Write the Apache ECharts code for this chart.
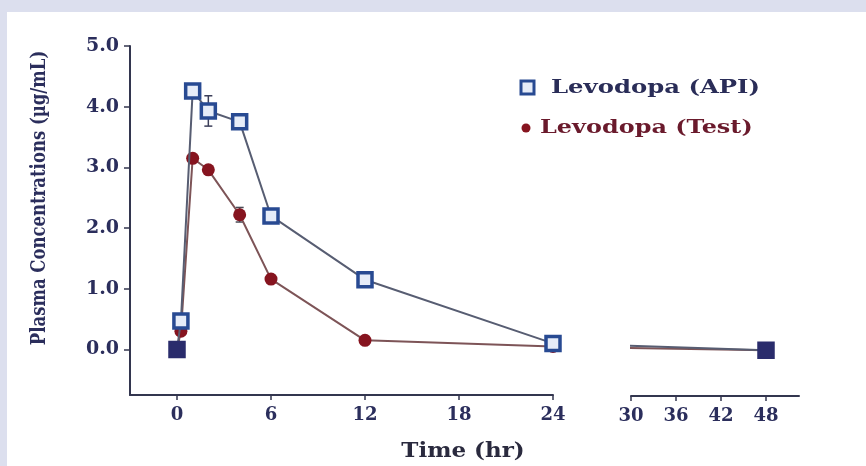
<!DOCTYPE html>
<html>
<head>
<meta charset="utf-8">
<style>
  html, body { margin: 0; padding: 0; background: #dcdfee; }
  #chart { width: 866px; height: 466px; }
</style>
<script src="https://cdn.jsdelivr.net/npm/echarts@6/dist/echarts.min.js"></script>
</head>
<body>
<div id="chart"></div>
<script>
// Sampling times (hr)
var times = [0, 0.25, 1, 2, 4, 6, 12, 24, 48];
// Mean plasma levodopa concentrations (µg/mL)
var apiMean = [0, 0.47, 4.26, 3.93, 3.75, 2.20, 1.15, 0.10, 0.00];
var testMean = [0, 0.30, 3.15, 2.96, 2.22, 1.16, 0.15, 0.05, 0.00];
// Standard deviations shown as error bars
var apiSD = [0, 0.03, 0.05, 0.25, 0.06, 0.06, 0.10, 0.03, 0];
var testSD = [0, 0.02, 0.05, 0.05, 0.12, 0.05, 0.03, 0.02, 0];
// Axis ticks
var yTicks = [0, 1, 2, 3, 4, 5];
var xTicksEarly = [0, 6, 12, 18, 24];
var xTicksLate = [30, 36, 42, 48];

var FONT = 'DejaVu Serif';
var NAVY = '#2b2e5c';
var AXIS = '#33364f';
var API_BLUE = '#284a92';
var API_FILL = '#e6ecf8';
var TEST_RED = '#86141f';

function pairs(vals) {
  return times.map(function (t, i) { return [t, vals[i]]; });
}
function apiPoints() {
  return times.map(function (t, i) {
    var p = { value: [t, apiMean[i]] };
    // overlapping API/Test markers at baseline render as a solid block
    if (apiMean[i] === 0) p.itemStyle = { color: '#2a2c6c', borderColor: '#2a2c6c' };
    return p;
  });
}
function errData(vals, sds) {
  return times.map(function (t, i) { return [t, vals[i] - sds[i], vals[i] + sds[i]]; })
    .filter(function (d, i) { return sds[i] > 0; });
}
function errRender(color) {
  return function (params, api) {
    var lo = api.coord([api.value(0), api.value(1)]);
    var hi = api.coord([api.value(0), api.value(2)]);
    var w = 4;
    var st = { stroke: color, lineWidth: 1.5 };
    return {
      type: 'group',
      children: [
        { type: 'line', shape: { x1: lo[0], y1: lo[1], x2: hi[0], y2: hi[1] }, style: st },
        { type: 'line', shape: { x1: lo[0] - w, y1: lo[1], x2: lo[0] + w, y2: lo[1] }, style: st },
        { type: 'line', shape: { x1: hi[0] - w, y1: hi[1], x2: hi[0] + w, y2: hi[1] }, style: st }
      ]
    };
  };
}

function xAxisCfg(gridIndex, min, max, ticks) {
  return {
    type: 'value', gridIndex: gridIndex, min: min, max: max,
    axisLine: { show: true, onZero: false, lineStyle: { color: AXIS, width: 2 } },
    axisTick: { show: true, customValues: ticks, length: 5, lineStyle: { color: AXIS, width: 1.5 } },
    axisLabel: {
      customValues: ticks, margin: 11,
      fontFamily: FONT, fontWeight: 'bold', fontSize: 18, color: NAVY
    },
    splitLine: { show: false }
  };
}
function yAxisCfg(gridIndex, show) {
  return {
    type: 'value', gridIndex: gridIndex, min: -0.75, max: 5, show: show,
    axisLine: { show: true, onZero: false, lineStyle: { color: AXIS, width: 2 } },
    axisTick: { show: true, customValues: yTicks, length: 6, lineStyle: { color: AXIS, width: 1.5 } },
    axisLabel: {
      customValues: yTicks, margin: 11,
      fontFamily: FONT, fontWeight: 'bold', fontSize: 19, color: NAVY,
      formatter: function (v) { return v.toFixed(1); }
    },
    splitLine: { show: false }
  };
}

function lineSeries(name, data, gi, sym, size, style, lineColor) {
  return {
    name: name, type: 'line', xAxisIndex: gi, yAxisIndex: gi, data: data,
    symbol: sym, symbolSize: size, clip: true,
    lineStyle: { color: lineColor, width: 2 },
    itemStyle: style, z: sym === 'rect' ? 4 : 3
  };
}

var apiStyle = { color: API_FILL, borderColor: API_BLUE, borderWidth: 3.5 };
var testStyle = { color: TEST_RED, borderColor: TEST_RED, borderWidth: 0 };

var series = [];
[0, 1].forEach(function (gi) {
  series.push({
    type: 'custom', xAxisIndex: gi, yAxisIndex: gi, clip: true, z: 2,
    renderItem: errRender('#4a4a55'), data: errData(testMean, testSD)
  });
  series.push({
    type: 'custom', xAxisIndex: gi, yAxisIndex: gi, clip: true, z: 2,
    renderItem: errRender('#3c3f5a'), data: errData(apiMean, apiSD)
  });
  series.push(lineSeries('Levodopa (Test)', pairs(testMean), gi, 'circle', 13, testStyle, '#7d5457'));
  series.push(lineSeries('Levodopa (API)', apiPoints(), gi, 'rect', 14, apiStyle, '#575d72'));
});

var chart = echarts.init(document.getElementById('chart'), null, { renderer: 'canvas' });
chart.setOption({
  backgroundColor: '#dcdfee',
  animation: false,
  grid: [
    { left: 130, top: 46, width: 423, height: 349 },
    { left: 631, top: 46, width: 168, height: 350 }
  ],
  xAxis: [xAxisCfg(0, -3, 24, xTicksEarly), xAxisCfg(1, 30, 52.4, xTicksLate)],
  yAxis: [yAxisCfg(0, true), yAxisCfg(1, false)],
  series: series,
  graphic: [
    { type: 'rect', z: -10, shape: { x: 7, y: 12, width: 870, height: 470 }, style: { fill: '#ffffff' } },
    {
      type: 'text', x: 40, y: 198, rotation: Math.PI / 2, scaleY: 1.25,
      style: {
        text: 'Plasma Concentrations (µg/mL)', fontFamily: FONT, fontWeight: 'bold',
        fontSize: 16.5, fill: NAVY, align: 'center', verticalAlign: 'middle'
      }
    },
    {
      type: 'text', x: 463, y: 452, scaleX: 1.15,
      style: {
        text: 'Time (hr)', fontFamily: FONT, fontWeight: 'bold',
        fontSize: 20, fill: '#2a2a3e', align: 'center', verticalAlign: 'middle'
      }
    },
    { type: 'rect', shape: { x: 521, y: 81, width: 13, height: 13 }, style: { fill: API_FILL, stroke: API_BLUE, lineWidth: 3 } },
    {
      type: 'text', x: 551, y: 88, scaleX: 1.28,
      style: {
        text: 'Levodopa (API)', fontFamily: FONT, fontWeight: 'bold',
        fontSize: 19, fill: '#2a2d58', verticalAlign: 'middle'
      }
    },
    { type: 'circle', shape: { cx: 526, cy: 128, r: 4.5 }, style: { fill: TEST_RED } },
    {
      type: 'text', x: 540, y: 128, scaleX: 1.26,
      style: {
        text: 'Levodopa (Test)', fontFamily: FONT, fontWeight: 'bold',
        fontSize: 19, fill: '#6a1a2c', verticalAlign: 'middle'
      }
    }
  ]
});
</script>
</body>
</html>
